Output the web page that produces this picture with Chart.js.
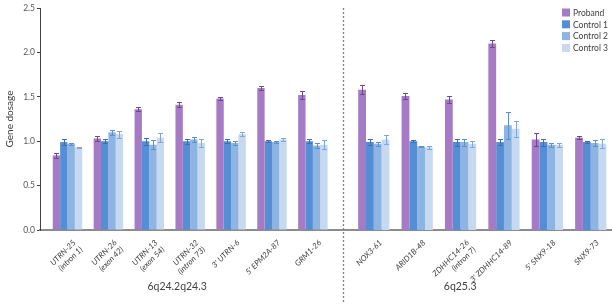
<!DOCTYPE html>
<html><head><meta charset="utf-8">
<script src="https://cdn.jsdelivr.net/npm/chart.js@4/dist/chart.umd.min.js"></script>
<style>
html,body{margin:0;padding:0;background:#fff;}
#wrap{position:relative;width:612px;height:304px;overflow:hidden;}
#cL{position:absolute;left:0;top:0;}
#cR{position:absolute;left:340px;top:0;}
</style></head><body>
<div id="wrap"><canvas id="cL" width="343" height="304"></canvas><canvas id="cR" width="272" height="304"></canvas></div>
<script>
// ---------- data ----------
const seriesNames = ["Proband", "Control 1", "Control 2", "Control 3"];

const regionLeft = "6q24.2q24.3";
const markersLeft = [["UTRN-25", "(intron 1)"], ["UTRN-26", "(exon 42)"], ["UTRN-13", "(exon 54)"], ["UTRN-32", "(intron 73)"], "3' UTRN-6", "5' EPM2A-87", "GRM1-26"];
const probandLeft  = [0.84, 1.03, 1.36, 1.41, 1.48, 1.60, 1.52];
const control1Left = [0.99, 1.00, 1.00, 1.00, 1.00, 1.00, 1.00];
const control2Left = [0.97, 1.10, 0.96, 1.02, 0.98, 0.99, 0.95];
const control3Left = [0.93, 1.08, 1.04, 0.98, 1.08, 1.02, 0.96];
const probandLeftErr  = [0.03, 0.03, 0.02, 0.03, 0.02, 0.02, 0.04];
const control1LeftErr = [0.03, 0.02, 0.04, 0.03, 0.02, 0.01, 0.02];
const control2LeftErr = [0.01, 0.03, 0.05, 0.03, 0.02, 0.01, 0.03];
const control3LeftErr = [0.01, 0.04, 0.05, 0.04, 0.02, 0.02, 0.05];

const regionRight = "6q25.3";
const markersRight = ["NOX3-61", "ARID1B-48", ["ZDHHC14-26", "(intron 7)"], "3' ZDHHC14-89", "5' SNX9-18", "SNX9-73"];
const probandRight  = [1.58, 1.51, 1.47, 2.10, 1.02, 1.04];
const control1Right = [0.99, 1.00, 0.99, 0.99, 0.99, 0.99];
const control2Right = [0.97, 0.94, 0.99, 1.18, 0.96, 0.98];
const control3Right = [1.02, 0.93, 0.97, 1.14, 0.96, 0.97];
const probandRightErr  = [0.05, 0.03, 0.04, 0.04, 0.07, 0.02];
const control1RightErr = [0.03, 0.01, 0.04, 0.03, 0.04, 0.01];
const control2RightErr = [0.02, 0.01, 0.04, 0.15, 0.02, 0.03];
const control3RightErr = [0.05, 0.02, 0.03, 0.09, 0.02, 0.05];

const yTicks = [0, 0.5, 1.0, 1.5, 2.0, 2.5];

// ---------- styles ----------
const FONT = "Lato, 'Liberation Sans', sans-serif";
const barColors = ["#A57BC6", "#558ED5", "#8DB4E2", "#C6D9F1"];
const errColors = ["#6E4A8C", "#3F6FAE", "#5F8FCB", "#7FA6D6"];

// ---------- plugins ----------
const errorBars = {
  id: 'errorBars',
  afterDatasetsDraw(chart) {
    const ctx = chart.ctx, ys = chart.scales.y;
    chart.data.datasets.forEach((ds, di) => {
      const meta = chart.getDatasetMeta(di);
      ctx.save();
      ctx.strokeStyle = ds.errorColor; ctx.lineWidth = 1;
      meta.data.forEach((bar, i) => {
        const v = ds.data[i].y, e = ds.errors[i];
        const x = Math.round(bar.x) + 0.5;
        const yt = Math.round(ys.getPixelForValue(v + e)) + 0.5;
        const yb = Math.round(ys.getPixelForValue(v - e)) + 0.5;
        ctx.beginPath();
        ctx.moveTo(x, yt); ctx.lineTo(x, yb);
        ctx.moveTo(x - 2.5, yt); ctx.lineTo(x + 2.5, yt);
        ctx.moveTo(x - 2.5, yb); ctx.lineTo(x + 2.5, yb);
        ctx.stroke();
      });
      ctx.restore();
    });
  }
};

const regionLabel = {
  id: 'regionLabel',
  afterDraw(chart, args, opts) {
    const ctx = chart.ctx, xs = chart.scales.x;
    ctx.save();
    ctx.font = "10.5px " + FONT; ctx.fillStyle = "#404040";
    ctx.textAlign = 'center'; ctx.textBaseline = 'middle';
    ctx.fillText(opts.text, xs.getPixelForValue(opts.at), opts.y);
    ctx.restore();
  }
};

const divider = {
  id: 'divider',
  afterDraw(chart, args, opts) {
    if (!opts.show) return;
    const ctx = chart.ctx, a = chart.chartArea;
    ctx.save();
    ctx.strokeStyle = "#808080"; ctx.lineWidth = 1.3; ctx.setLineDash([2, 2]);
    ctx.beginPath(); ctx.moveTo(a.left + 0.5, a.top); ctx.lineTo(a.left + 0.5, chart.height); ctx.stroke();
    ctx.restore();
  }
};

const cornerLegend = {
  id: 'cornerLegend',
  afterDraw(chart, args, opts) {
    if (!opts.show) return;
    const ctx = chart.ctx;
    ctx.save();
    ctx.font = "8.5px " + FONT; ctx.textBaseline = 'middle';
    chart.data.datasets.forEach((ds, i) => {
      const yy = opts.y + i * opts.step;
      ctx.fillStyle = ds.backgroundColor; ctx.fillRect(opts.x, yy - 4, 8, 8);
      ctx.fillStyle = "#404040"; ctx.fillText(ds.label, opts.x + 11, yy + 0.5);
    });
    ctx.restore();
  }
};

function makeDatasets(series, errs) {
  return series.map((vals, k) => ({
    label: seriesNames[k],
    data: vals.map((v, i) => ({ x: i, y: v })),
    errors: errs[k],
    backgroundColor: barColors[k],
    errorColor: errColors[k],
    borderWidth: 0,
    categoryPercentage: 0.72,
    barPercentage: 1.0
  }));
}

function makeChart(id, markers, series, errs, cfg) {
  return new Chart(document.getElementById(id), {
    type: 'bar',
    data: { datasets: makeDatasets(series, errs) },
    plugins: [errorBars, regionLabel, divider, cornerLegend],
    options: {
      responsive: false, animation: false, devicePixelRatio: 1,
      layout: { padding: { top: 8, bottom: 0, left: cfg.padLeft, right: 0 } },
      plugins: {
        legend: { display: false }, tooltip: { enabled: false },
        regionLabel: { text: cfg.region, at: cfg.regionAt, y: 287 },
        divider: { show: cfg.divider },
        cornerLegend: { show: cfg.legend, x: 222, y: 12.5, step: 11.8 }
      },
      scales: {
        x: {
          type: 'linear', offset: false, min: cfg.xmin, max: cfg.xmax,
          afterBuildTicks: s => { s.ticks = markers.map((m, i) => ({ value: i })); },
          afterFit: s => { s.height = 74; s.paddingLeft = 0; s.paddingRight = 0; },
          grid: { display: false, offset: false },
          border: { display: true, color: "#8C8C8C", width: 2 },
          ticks: {
            autoSkip: false, minRotation: 45, maxRotation: 45, padding: 0, labelOffset: 7,
            color: "#404040", font: { family: FONT, size: 8, style: 'italic' },
            callback: v => markers[v]
          }
        },
        y: {
          display: cfg.showY, min: 0, max: 2.5,
          afterBuildTicks: s => { s.ticks = yTicks.map(v => ({ value: v })); },
          afterFit: s => { s.width = cfg.showY ? 40 : 0; },
          grid: { drawOnChartArea: false, drawTicks: true, tickLength: 3, color: "#404040" },
          border: { display: true, color: "#404040", width: 1 },
          ticks: { padding: 2, color: "#595959", font: { family: FONT, size: 8.5 }, callback: v => v.toFixed(1) },
          title: { display: true, text: "Gene dosage", color: "#404040", font: { family: FONT, size: 10 }, padding: { top: 4, bottom: 0 } }
        }
      }
    }
  });
}

makeChart('cL', markersLeft,
  [probandLeft, control1Left, control2Left, control3Left],
  [probandLeftErr, control1LeftErr, control2LeftErr, control3LeftErr],
  { padLeft: 0, xmin: -0.672, xmax: 6.736, showY: true, region: regionLeft, regionAt: 2.68, divider: false, legend: false });

makeChart('cR', markersRight,
  [probandRight, control1Right, control2Right, control3Right],
  [probandRightErr, control1RightErr, control2RightErr, control3RightErr],
  { padLeft: 3, xmin: -0.71, xmax: 5.49, showY: false, region: regionRight, regionAt: 1.99, divider: true, legend: true });
</script>
</body></html>
